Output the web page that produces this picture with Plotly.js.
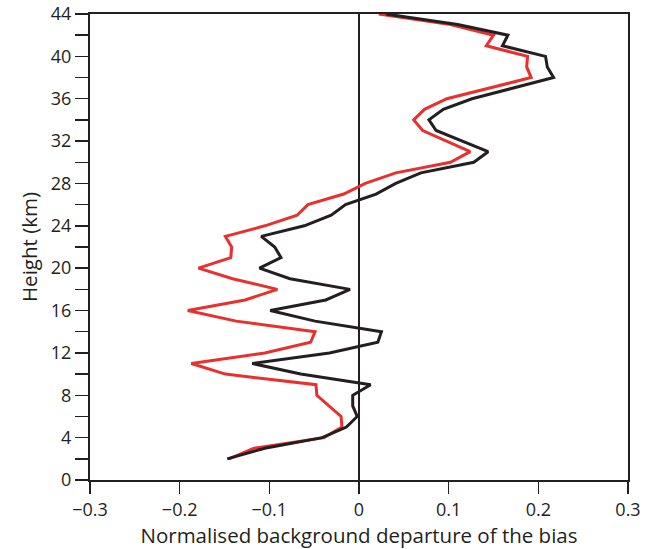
<!DOCTYPE html>
<html><head><meta charset="utf-8">
<script src="https://cdn.plot.ly/plotly-3.0.1.min.js"></script>
<style>body{margin:0;background:#fff}#c{width:652px;height:549px}</style>
</head><body><div id="c"></div>
<script>
const heights = [44,43,42,41,40,39,38,36,35,34,33,31,30,29,28,27,26,25,24,23,22,21,20,19,18,17,16,15,14,13,12,11,10,9,8,7,6,5,4,3,2];
const blackVals = [0.030,0.110,0.166,0.160,0.208,0.210,0.217,0.126,0.094,0.078,0.086,0.144,0.128,0.069,0.041,0.019,-0.015,-0.031,-0.061,-0.109,-0.094,-0.087,-0.111,-0.077,-0.010,-0.037,-0.099,-0.049,0.025,0.021,-0.033,-0.119,-0.065,0.013,-0.007,-0.007,-0.002,-0.014,-0.041,-0.105,-0.147];
const redVals = [0.022,0.102,0.150,0.142,0.188,0.187,0.192,0.098,0.073,0.061,0.071,0.124,0.102,0.041,0.007,-0.017,-0.057,-0.069,-0.105,-0.149,-0.142,-0.143,-0.179,-0.141,-0.091,-0.127,-0.191,-0.137,-0.049,-0.054,-0.105,-0.187,-0.149,-0.048,-0.047,-0.033,-0.020,-0.019,-0.039,-0.117,-0.145];
const xTicks = [-0.3,-0.2,-0.1,0,0.1,0.2,0.3];
const xTickText = ['\u22120.3','\u22120.2','\u22120.1','0','0.1','0.2','0.3'];
const yTicks = [0,2,4,6,8,10,12,14,16,18,20,22,24,26,28,30,32,34,36,38,40,42,44];
const yTickText = yTicks.map(v => v % 4 === 0 ? String(v) : '');

const traces = [
  {x: redVals, y: heights, mode:'lines', line:{color:'#e8302e', width:3}, showlegend:false},
  {x: blackVals, y: heights, mode:'lines', line:{color:'#231f20', width:3}, showlegend:false}
];
const font = {family:'"Open Sans", "Noto Sans", sans-serif', size:18, color:'#231f20'};
const layout = {
  width:652, height:549,
  margin:{l:90, r:24, t:14, b:69},
  paper_bgcolor:'#fff', plot_bgcolor:'#fff',
  font: font,
  xaxis:{range:[-0.3,0.3], tickmode:'array', tickvals:xTicks, ticktext:xTickText,
    ticks:'outside', ticklen:12, tickwidth:1.5, tickcolor:'#231f20',
    showline:true, linecolor:'#231f20', linewidth:2, mirror:true,
    showgrid:false, zeroline:true, zerolinecolor:'#231f20', zerolinewidth:1.5,
    title:{text:'Normalised background departure of the bias', font:{size:20.5}, standoff:2}},
  yaxis:{range:[0,44], tickmode:'array', tickvals:yTicks, ticktext:yTickText,
    ticks:'outside', ticklen:13, tickwidth:1.5, tickcolor:'#231f20',
    showline:true, linecolor:'#231f20', linewidth:2, mirror:true,
    showgrid:false, zeroline:false,
    title:{text:'Height (km)', font:{size:20.5}, standoff:8}}
};
Plotly.newPlot('c', traces, layout, {displayModeBar:false, staticPlot:true});
</script>
</body></html>
